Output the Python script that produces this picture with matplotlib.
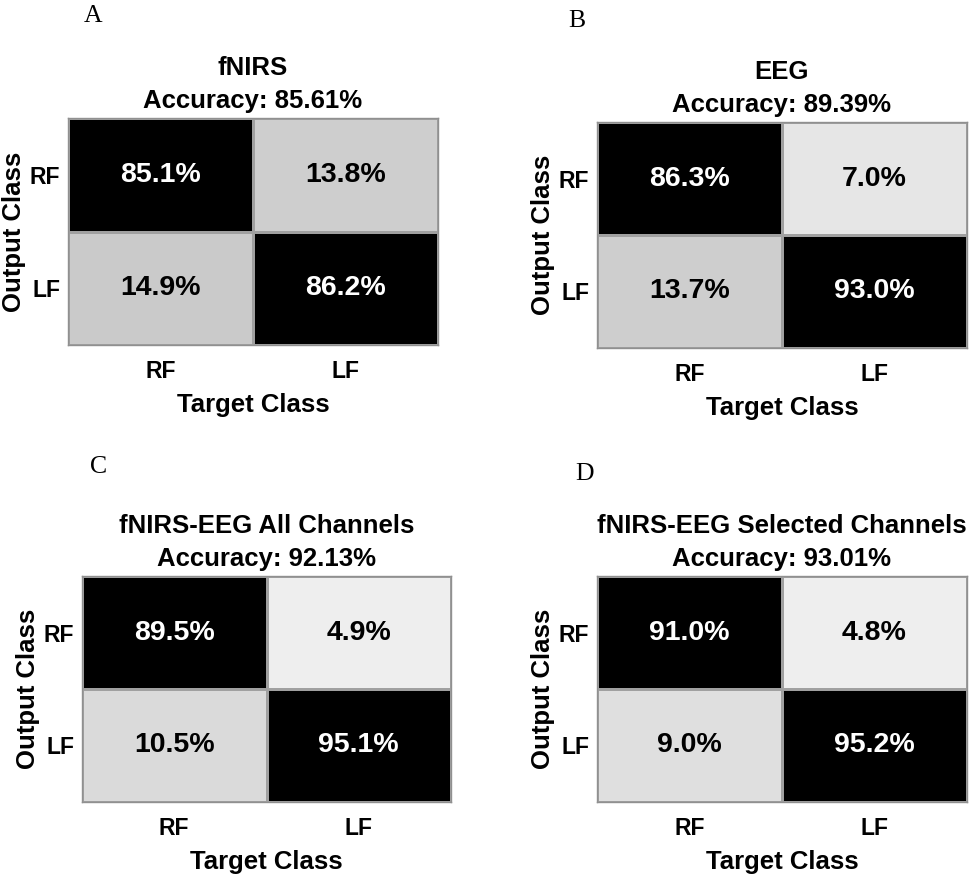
import matplotlib.pyplot as plt
from matplotlib.colors import Normalize
import numpy as np

plt.rcParams['font.family'] = ['Liberation Sans', 'DejaVu Sans']

classes = ['RF', 'LF']
names = ['fNIRS', 'EEG', 'fNIRS-EEG All Channels', 'fNIRS-EEG Selected Channels']
accuracy = [85.61, 89.39, 92.13, 93.01]
letters = ['A', 'B', 'C', 'D']

# rows = output class, cols = target class (percent)
fnirs = [[85.1, 13.8], [14.9, 86.2]]
eeg = [[86.3, 7.0], [13.7, 93.0]]
all_ch = [[89.5, 4.9], [10.5, 95.1]]
sel_ch = [[91.0, 4.8], [9.0, 95.2]]
matrices = [fnirs, eeg, all_ch, sel_ch]

W, H = 969, 874
fig = plt.figure(figsize=(W / 100, H / 100), dpi=100)

# axes boxes in pixels: left, top, right, bottom
boxes = [(68, 118, 438, 345), (597, 122, 967, 348),
         (82, 576, 451, 802), (597, 576, 967, 802)]
letter_pos = [(93, 22), (577, 27), (99, 473), (585, 480)]

norm = Normalize(vmin=0, vmax=71, clip=True)

for i in range(4):
    l, t, r, b = boxes[i]
    ax = fig.add_axes([l / W, 1 - b / H, (r - l) / W, (b - t) / H])
    m = np.array(matrices[i])
    ax.pcolormesh(np.arange(3) - 0.5, np.arange(3) - 0.5, m, cmap='gray_r',
                  norm=norm, edgecolor='#a0a0a0', linewidth=0.8)
    ax.set_xlim(-0.5, 1.5)
    ax.set_ylim(1.5, -0.5)
    for r_ in range(2):
        for c in range(2):
            v = m[r_, c]
            ax.text(c, r_, f'{v:.1f}%', ha='center', va='center',
                    fontsize=20.5, fontweight='bold',
                    color='white' if v > 50 else 'black')
    ax.set_xticks([0, 1])
    ax.set_xticklabels(classes, fontsize=16.5, fontweight='bold')
    ax.set_yticks([0, 1])
    ax.set_yticklabels(classes, fontsize=16.5, fontweight='bold')
    ax.tick_params(length=0, pad=5.5)
    ax.tick_params(axis='x', pad=11)
    ax.set_xlabel('Target Class', fontsize=18.5, fontweight='bold', labelpad=7)
    ax.set_ylabel('Output Class', fontsize=18.5, fontweight='bold', labelpad=3)
    ax.set_title(f'{names[i]}\nAccuracy: {accuracy[i]:.2f}%', fontsize=18.5,
                 fontweight='bold', linespacing=1.45, pad=7.5)
    for s in ax.spines.values():
        s.set_color('#909090')
        s.set_linewidth(1.0)
    lx, ly = letter_pos[i]
    fig.text(lx / W, 1 - ly / H, letters[i], ha='center', va='baseline',
             fontsize=18.5, family='Liberation Serif')

fig.savefig('out.png', dpi=100, facecolor='white')
